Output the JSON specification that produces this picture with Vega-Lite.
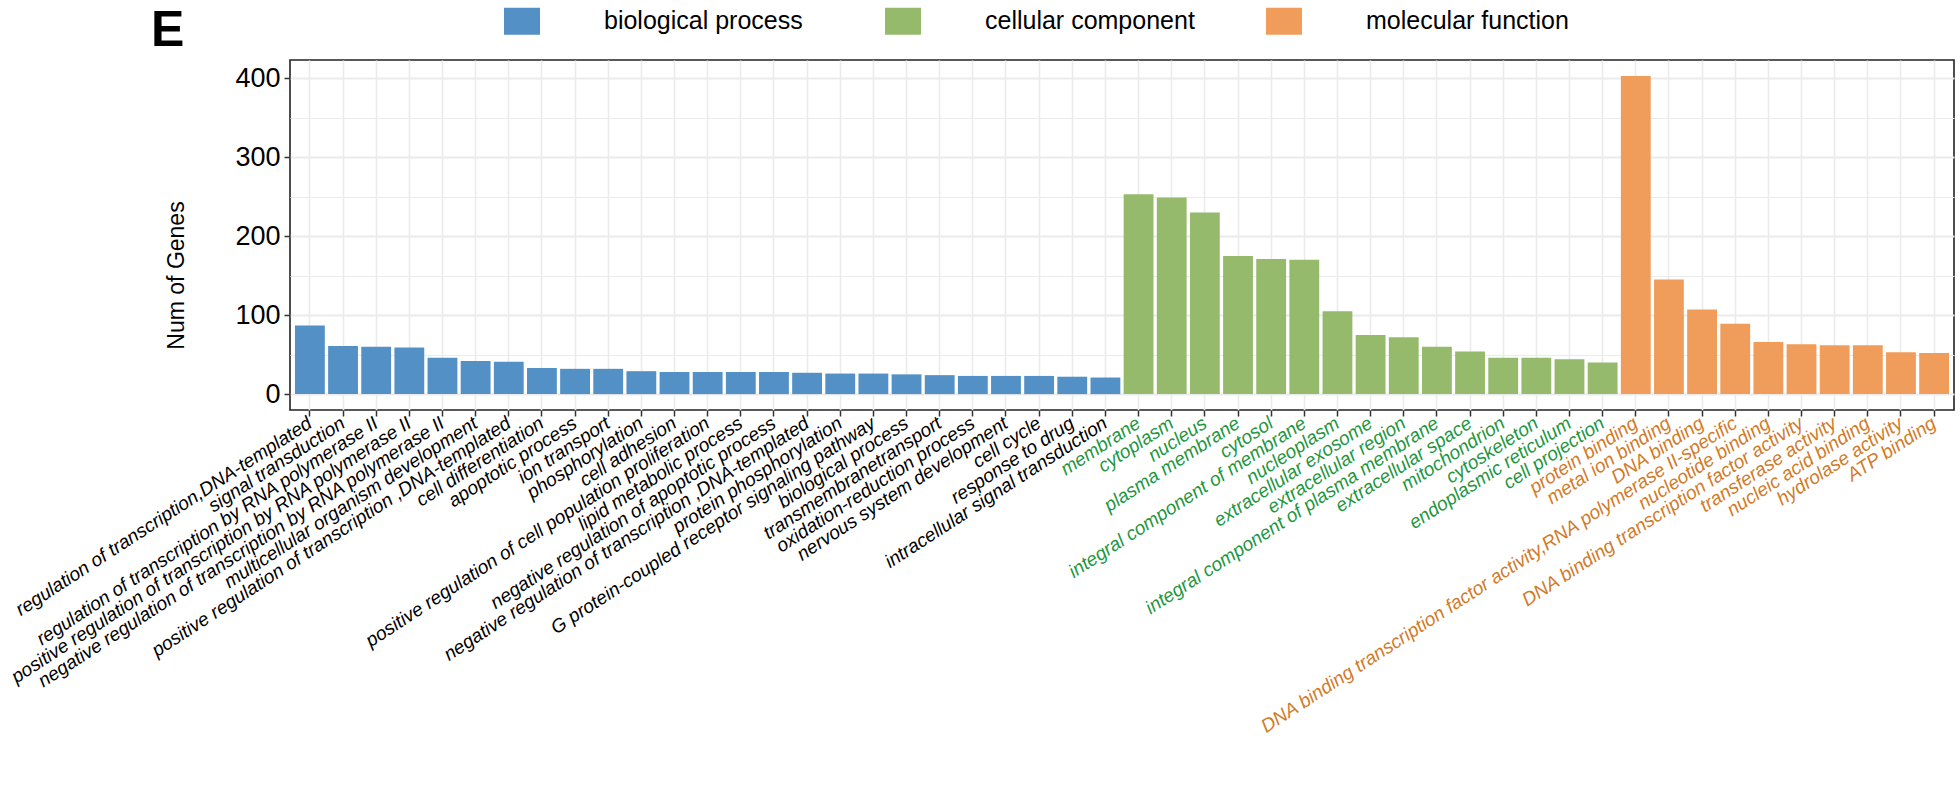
{
  "$schema": "https://vega.github.io/schema/vega-lite/v6.json",
  "autosize": "none",
  "width": 1664,
  "height": 350,
  "padding": {"left": 290, "top": 60, "right": 6, "bottom": 382},
  "background": "white",
  "title": {"text": "E", "anchor": "start", "frame": "group", "fontSize": 50, "fontWeight": "bold", "font": "Liberation Sans", "color": "black", "dx": -139, "dy": 106, "offset": 13, "baseline": "alphabetic"},
  "config": {
    "view": {"stroke": "#222222", "strokeWidth": 1.6},
    "font": "Liberation Sans"
  },
  "data": {"values": [
    {"term": "regulation of transcription,DNA-templated", "category": "biological process", "count": 87},
    {"term": "signal transduction", "category": "biological process", "count": 61},
    {"term": "regulation of transcription by RNA polymerase II", "category": "biological process", "count": 60},
    {"term": "positive regulation of transcription by RNA polymerase II", "category": "biological process", "count": 59},
    {"term": "negative regulation of transcription by RNA polymerase II", "category": "biological process", "count": 46},
    {"term": "multicellular organism development", "category": "biological process", "count": 42},
    {"term": "positive regulation of transcription ,DNA-templated", "category": "biological process", "count": 41},
    {"term": "cell differentiation", "category": "biological process", "count": 33},
    {"term": "apoptotic process", "category": "biological process", "count": 32},
    {"term": "ion transport", "category": "biological process", "count": 32},
    {"term": "phosphorylation", "category": "biological process", "count": 29},
    {"term": "cell adhesion", "category": "biological process", "count": 28},
    {"term": "positive regulation of cell population proliferation", "category": "biological process", "count": 28},
    {"term": "lipid metabolic process", "category": "biological process", "count": 28},
    {"term": "negative regulation of apoptotic process", "category": "biological process", "count": 28},
    {"term": "negative regulation of transcription ,DNA-templated", "category": "biological process", "count": 27},
    {"term": "protein phosphorylation", "category": "biological process", "count": 26},
    {"term": "G protein-coupled receptor signaling pathway", "category": "biological process", "count": 26},
    {"term": "biological process", "category": "biological process", "count": 25},
    {"term": "transmembranetransport", "category": "biological process", "count": 24},
    {"term": "oxidation-reduction process", "category": "biological process", "count": 23},
    {"term": "nervous system development", "category": "biological process", "count": 23},
    {"term": "cell cycle", "category": "biological process", "count": 23},
    {"term": "response to drug", "category": "biological process", "count": 22},
    {"term": "intracellular signal transduction", "category": "biological process", "count": 21},
    {"term": "membrane", "category": "cellular component", "count": 253},
    {"term": "cytoplasm", "category": "cellular component", "count": 249},
    {"term": "nucleus", "category": "cellular component", "count": 230},
    {"term": "plasma membrane", "category": "cellular component", "count": 175},
    {"term": "cytosol", "category": "cellular component", "count": 171},
    {"term": "integral component of membrane", "category": "cellular component", "count": 170},
    {"term": "nucleoplasm", "category": "cellular component", "count": 105},
    {"term": "extracellular exosome", "category": "cellular component", "count": 75},
    {"term": "extracellular region", "category": "cellular component", "count": 72},
    {"term": "integral component of plasma membrane", "category": "cellular component", "count": 60},
    {"term": "extracellular space", "category": "cellular component", "count": 54},
    {"term": "mitochondrion", "category": "cellular component", "count": 46},
    {"term": "cytoskeleton", "category": "cellular component", "count": 46},
    {"term": "endoplasmic reticulum", "category": "cellular component", "count": 44},
    {"term": "cell projection", "category": "cellular component", "count": 40},
    {"term": "protein binding", "category": "molecular function", "count": 403},
    {"term": "metal ion binding", "category": "molecular function", "count": 145},
    {"term": "DNA binding", "category": "molecular function", "count": 107},
    {"term": "DNA binding transcription factor activity,RNA polymerase II-specific", "category": "molecular function", "count": 89},
    {"term": "nucleotide binding", "category": "molecular function", "count": 66},
    {"term": "DNA binding transcription factor activity", "category": "molecular function", "count": 63},
    {"term": "transferase activity", "category": "molecular function", "count": 62},
    {"term": "nucleic acid binding", "category": "molecular function", "count": 62},
    {"term": "hydrolase activity", "category": "molecular function", "count": 53},
    {"term": "ATP binding", "category": "molecular function", "count": 52}
  ]},
  "mark": {"type": "bar"},
  "encoding": {
    "x": {
      "field": "term", "type": "nominal", "sort": null,
      "scale": {"paddingInner": 0.1, "paddingOuter": 0.15},
      "axis": {
        "title": null,
        "bandPosition": 0.5,
        "grid": true, "gridColor": "#EBEBEB", "gridWidth": 1.6,
        "domain": false,
        "ticks": true, "tickColor": "#333333", "tickWidth": 1.5, "tickSize": 6,
        "labelAngle": -33, "labelAlign": "right", "labelBaseline": "middle",
        "labelPadding": 5,
        "labelFont": "Liberation Sans", "labelFontStyle": "italic", "labelFontSize": 19,
        "labelLimit": 1000,
        "labelColor": {
          "condition": [
            {"test": "indexof(['membrane','cytoplasm','nucleus','plasma membrane','cytosol','integral component of membrane','nucleoplasm','extracellular exosome','extracellular region','integral component of plasma membrane','extracellular space','mitochondrion','cytoskeleton','endoplasmic reticulum','cell projection'], datum.value) >= 0", "value": "#1E9640"},
            {"test": "indexof(['protein binding','metal ion binding','DNA binding','DNA binding transcription factor activity,RNA polymerase II-specific','nucleotide binding','DNA binding transcription factor activity','transferase activity','nucleic acid binding','hydrolase activity','ATP binding'], datum.value) >= 0", "value": "#D27A28"}
          ],
          "value": "#000000"
        }
      }
    },
    "y": {
      "field": "count", "type": "quantitative",
      "scale": {"domain": [-20.15, 423.15], "nice": false, "zero": false},
      "axis": {
        "title": "Num of Genes",
        "titleFont": "Liberation Sans", "titleFontSize": 23, "titleFontWeight": "normal", "titleColor": "#000000",
        "titleX": -114, "titleY": 215, "titleAngle": -90, "titleAlign": "center", "titleBaseline": "middle",
        "values": [0, 50, 100, 150, 200, 250, 300, 350, 400],
        "labelExpr": "datum.value % 100 === 0 ? datum.label : ''",
        "labelFont": "Liberation Sans", "labelFontSize": 27, "labelColor": "#000000", "labelPadding": 4,
        "grid": true, "gridColor": "#EBEBEB",
        "gridWidth": {"condition": {"test": "datum.value % 100 === 0", "value": 1.8}, "value": 1.2},
        "domain": false,
        "tickColor": "#333333", "tickWidth": 1.5, "tickSize": 6,
        "tickOpacity": {"condition": {"test": "datum.value % 100 === 0", "value": 1}, "value": 0}
      }
    },
    "color": {
      "field": "category", "type": "nominal",
      "scale": {"domain": ["biological process", "cellular component", "molecular function"], "range": ["#5290C5", "#96BA6C", "#F09D5B"]},
      "legend": {
        "title": null,
        "orient": "none", "legendX": 214, "legendY": -57,
        "direction": "horizontal", "columns": 3, "gridAlign": "all",
        "columnPadding": 71,
        "symbolType": "M-1,-0.75H1V0.75H-1Z", "symbolSize": 1296, "symbolStrokeWidth": 0, "symbolOpacity": 1,
        "labelFont": "Liberation Sans", "labelFontSize": 25, "labelColor": "#000000",
        "labelOffset": 64, "labelLimit": 400
      }
    }
  }
}
